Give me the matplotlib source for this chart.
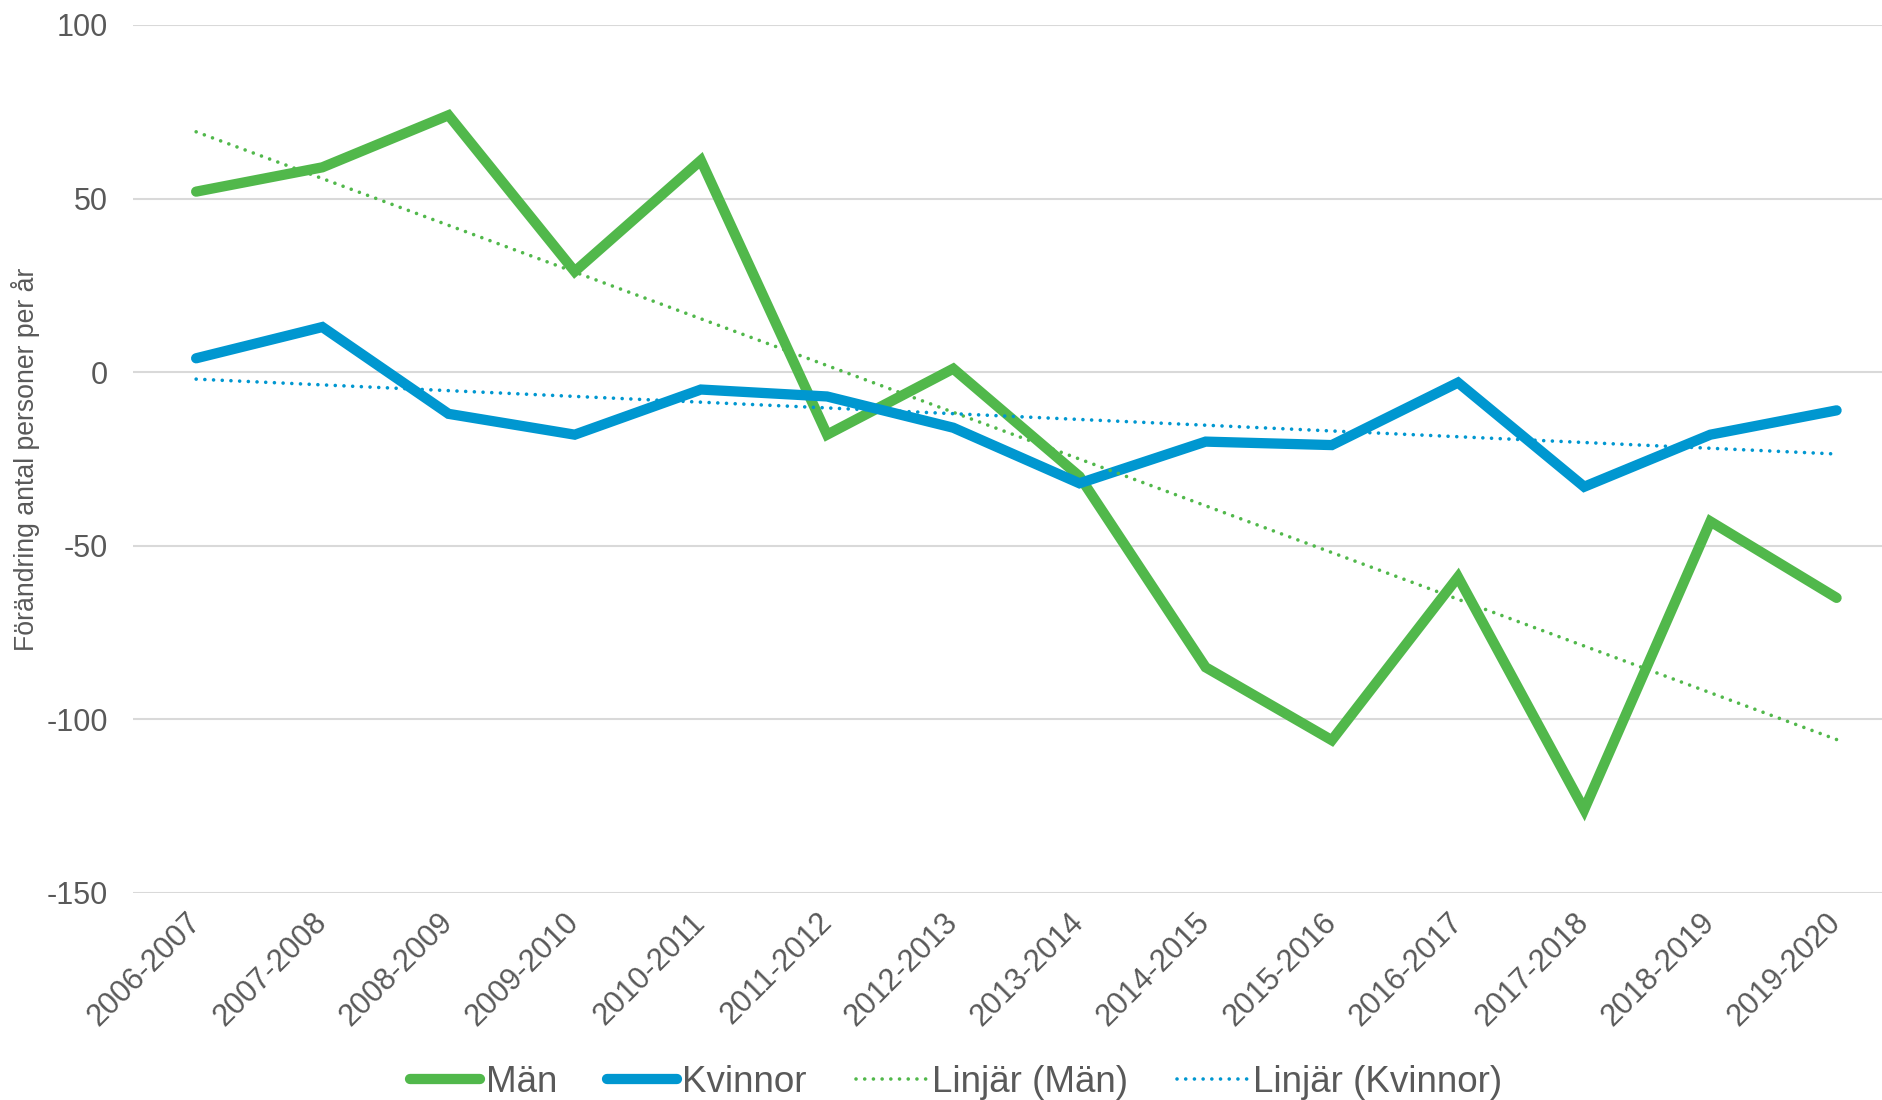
import numpy as np
import matplotlib
matplotlib.use("Agg")
import matplotlib.pyplot as plt

plt.rcParams['font.family'] = ['Liberation Sans', 'DejaVu Sans']
plt.rcParams['axes.unicode_minus'] = False

perioder = ["2006-2007", "2007-2008", "2008-2009", "2009-2010", "2010-2011",
            "2011-2012", "2012-2013", "2013-2014", "2014-2015", "2015-2016",
            "2016-2017", "2017-2018", "2018-2019", "2019-2020"]
man = [52, 59, 74, 29, 61, -18, 1, -30, -85, -106, -59, -126, -43, -65]
kvinnor = [4, 13, -12, -18, -5, -7, -16, -32, -20, -21, -3, -33, -18, -11]
yticks = [-150, -100, -50, 0, 50, 100]

green = '#51b84b'
blue = '#0097d0'
grey = '#595959'

x = np.arange(len(perioder))
trend_m = np.polyval(np.polyfit(x, man, 1), x)
trend_k = np.polyval(np.polyfit(x, kvinnor, 1), x)

fig = plt.figure(figsize=(18.82, 11), dpi=100)
ax = fig.add_axes([0.0707, 0.1882, 0.9293, 0.7891])

ax.plot(x, man, color=green, lw=7.4, solid_capstyle='round', solid_joinstyle='miter',
        label='Män', zorder=3)
ax.plot(x, kvinnor, color=blue, lw=7.4, solid_capstyle='round', solid_joinstyle='miter',
        label='Kvinnor', zorder=3)
dots = (0, (0.01, 2.4))
ax.plot(x, trend_m, color=green, lw=2.6, linestyle=dots, dash_capstyle='round',
        label='Linjär (Män)', zorder=4)
ax.plot(x, trend_k, color=blue, lw=2.6, linestyle=dots, dash_capstyle='round',
        label='Linjär (Kvinnor)', zorder=4)

ax.set_xlim(-0.5, 13.36)
ax.set_ylim(-150, 100)
ax.set_yticks(yticks)
ax.set_yticklabels([str(v) for v in yticks])
ax.set_xticks(x)
ax.set_xticklabels(perioder, rotation=45, ha='right', va='center',
                   rotation_mode='anchor')

ax.grid(axis='y', color='#d9d9d9', lw=1.5)
ax.set_axisbelow(True)
for s in ax.spines.values():
    s.set_visible(False)
ax.tick_params(axis='both', length=0, labelsize=22, labelcolor=grey)
ax.tick_params(axis='y', pad=18)
ax.tick_params(axis='x', pad=18)

fig.text(0.0138, 0.5827, 'Förändring antal personer per år', rotation=90,
         ha='center', va='center', fontsize=19.2, color=grey)

fig.legend(loc='center', bbox_to_anchor=(0.508, 1 - 1082 / 1100), ncol=4,
           frameon=False, fontsize=26.5, labelcolor=grey, handlelength=1.9,
           handletextpad=0.15, columnspacing=1.35)

fig.savefig('out.png', dpi=100)
